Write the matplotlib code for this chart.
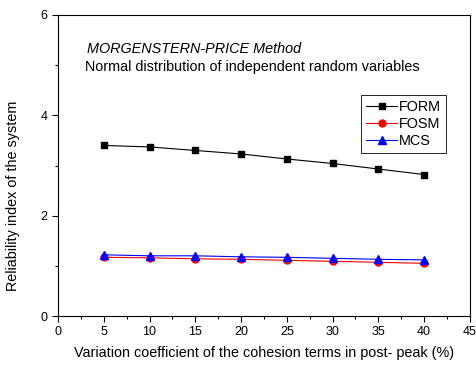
import numpy as np
import matplotlib.pyplot as plt
from matplotlib.ticker import MultipleLocator

plt.rcParams['font.family'] = ['Liberation Sans', 'DejaVu Sans']

# data
cv = [5, 10, 15, 20, 25, 30, 35, 40]
form = [3.40, 3.37, 3.30, 3.23, 3.13, 3.04, 2.93, 2.82]
fosm = [1.17, 1.16, 1.14, 1.13, 1.11, 1.09, 1.07, 1.05]
mcs = [1.22, 1.20, 1.20, 1.18, 1.17, 1.15, 1.13, 1.12]

fig = plt.figure(figsize=(4.77, 3.72), dpi=100)
ax = fig.add_axes([0.1216, 0.1505, 0.8634, 0.8092])

ax.plot(cv, form, color='black', lw=0.8, marker='s', ms=5, label='FORM')
ax.plot(cv, fosm, color='red', lw=0.8, marker='o', ms=5, label='FOSM')
ax.plot(cv, mcs, color='blue', lw=0.8, marker='^', ms=6, label='MCS')

ax.set_xlim(0, 45)
ax.set_ylim(0, 6)
ax.xaxis.set_major_locator(MultipleLocator(5))
ax.xaxis.set_minor_locator(MultipleLocator(2.5))
ax.yaxis.set_major_locator(MultipleLocator(2))
ax.yaxis.set_minor_locator(MultipleLocator(1))
ax.tick_params(which='major', direction='out', length=4, labelsize=9, width=0.8)
ax.tick_params(which='minor', direction='out', length=2.5, width=0.8)
for s in ax.spines.values():
    s.set_linewidth(0.8)

ax.set_xlabel('Variation coefficient of the cohesion terms in post- peak (%)', fontsize=10.4)
ax.set_ylabel('Reliability index of the system', fontsize=10.4)
ax.xaxis.set_label_coords(0.501, -0.10)
ax.yaxis.set_label_coords(-0.093, 0.40)

ax.text(0.07, 0.875, 'MORGENSTERN-PRICE Method', style='italic', fontsize=10.4,
        transform=ax.transAxes)
ax.text(0.065, 0.815, 'Normal distribution of independent random variables', fontsize=10.4,
        transform=ax.transAxes)

leg = ax.legend(loc='upper right', bbox_to_anchor=(0.942, 0.735), fontsize=10.4,
                fancybox=False, framealpha=1, edgecolor='black', handlelength=2.2,
                handletextpad=0.1, borderpad=0.35, labelspacing=0.2, borderaxespad=0)
leg.get_frame().set_linewidth(0.6)

fig.savefig('out.png', dpi=100)
